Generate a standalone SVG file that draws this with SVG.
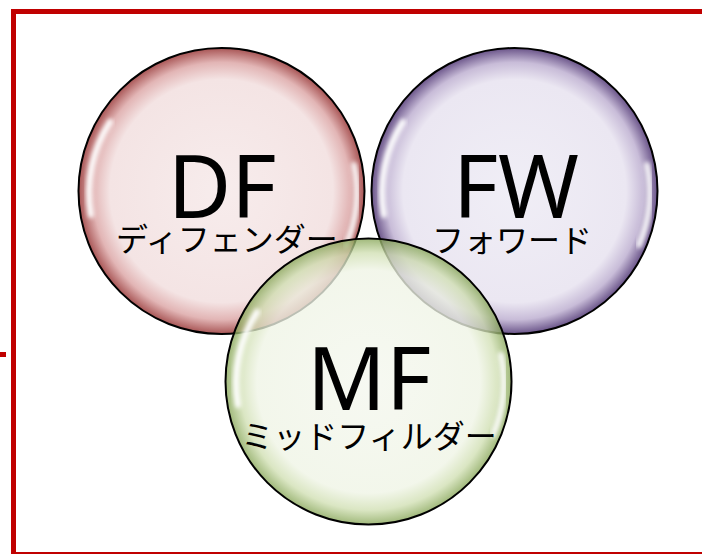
<svg xmlns="http://www.w3.org/2000/svg" width="702" height="554" viewBox="0 0 702 554">
<style>
.frame{fill:none;stroke:#c00000;stroke-width:5}
.rim{fill:none;stroke:#000;stroke-width:2}
.big{font-family:"Noto Sans","Open Sans","Liberation Sans",sans-serif;font-size:87px;fill:#000;text-anchor:middle}
.jp{font-family:"Noto Sans CJK JP","Noto Sans",sans-serif;font-size:32px;fill:#000;text-anchor:middle}
.hl{fill:none;stroke:#fff;stroke-width:6;stroke-linecap:round;filter:url(#blur)}
</style>
<defs>
<filter id="blur" x="-20%" y="-20%" width="140%" height="140%"><feGaussianBlur stdDeviation="2.2"/></filter>
<radialGradient id="gDF" cx="0.5" cy="0.5" r="0.5">
<stop offset="0" stop-color="#f7ecec"/>
<stop offset="0.78" stop-color="#f4e4e4"/>
<stop offset="0.9" stop-color="#e2b5b5"/>
<stop offset="1" stop-color="#a85555"/>
</radialGradient>
<radialGradient id="gFW" cx="0.5" cy="0.5" r="0.5">
<stop offset="0" stop-color="#f0eef6"/>
<stop offset="0.78" stop-color="#ebe7f2"/>
<stop offset="0.9" stop-color="#c8bcd8"/>
<stop offset="1" stop-color="#6a5489"/>
</radialGradient>
<radialGradient id="gMF" cx="0.5" cy="0.5" r="0.5">
<stop offset="0" stop-color="#f4f7ee"/>
<stop offset="0.78" stop-color="#eff4e5"/>
<stop offset="0.9" stop-color="#d0dfb2"/>
<stop offset="1" stop-color="#86a556"/>
</radialGradient>
</defs>

<g id="frame">
<rect class="frame" x="13.5" y="11.5" width="700" height="543"/>
<line x1="0" y1="354.5" x2="6" y2="354.5" stroke="#c00000" stroke-width="5"/>
</g>

<g id="DF">
<circle cx="221.5" cy="191" r="143" fill="url(#gDF)"/>
<path class="hl" d="M 91 215 A 131 131 0 0 1 110 122"/>
<path class="hl" d="M 354 165 A 134 134 0 0 1 346 245" opacity="0.9"/>
<circle class="rim" cx="221.5" cy="191" r="143"/>
<text class="big" x="222" y="218">DF</text>
<text class="jp" x="227" y="251">ディフェンダー</text>
</g>

<g id="FW">
<circle cx="514.5" cy="191" r="143" fill="url(#gFW)"/>
<path class="hl" d="M 384 215 A 131 131 0 0 1 403 122"/>
<path class="hl" d="M 647 165 A 134 134 0 0 1 639 245" opacity="0.9"/>
<circle class="rim" cx="514.5" cy="191" r="143"/>
<text class="big" x="516" y="218">FW</text>
<text class="jp" x="512" y="252">フォワード</text>
</g>

<g id="MF">
<circle cx="368.5" cy="381.5" r="143" fill="url(#gMF)" fill-opacity="0.78"/>
<path class="hl" d="M 238 405 A 131 131 0 0 1 257 312"/>
<path class="hl" d="M 501 355 A 134 134 0 0 1 493 435" opacity="0.9"/>
<circle class="rim" cx="368.5" cy="381.5" r="143"/>
<text class="big" x="369" y="410">MF</text>
<text class="jp" x="369" y="448">ミッドフィルダー</text>
</g>

<g id="connectors"/>
</svg>
